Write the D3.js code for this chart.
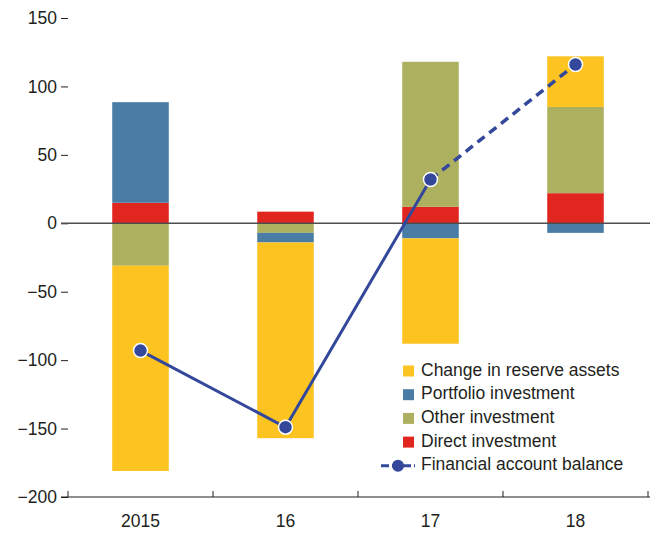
<!DOCTYPE html>
<html lang="en">
<head>
    <meta charset="UTF-8">
    <title>Financial account</title>
    <script src="https://cdn.jsdelivr.net/npm/d3@7"></script>
    <style>
        body { margin: 0; background: #fff; }
        svg { display: block; font-family: "Liberation Sans", Arial, sans-serif; }
        .tick text { font-size: 17.5px; fill: #231f20; }
        .legend text { font-size: 17.5px; fill: #231f20; }
    </style>
</head>
<body>
<div id="chart"></div>
<script>
    const years = ["2015", "16", "17", "18"];
    const directInvestment = [15, 8.5, 12, 22];
    const otherInvestment = [-31, -7, 106, 63];
    const portfolioInvestment = [73.5, -7, -11, -7];
    const reserveAssets = [-150, -143, -77, 37];
    const balance = [-93, -149, 32, 116];
    const yTicks = [-200, -150, -100, -50, 0, 50, 100, 150];

    const width = 662, height = 534;
    const colors = {
        direct: "#e1261f",
        other: "#adb15f",
        portfolio: "#4a7da6",
        reserve: "#fdc320"
    };
    const lineColor = "#33479b";

    const rows = years.map((y, i) => ({
        year: y,
        direct: directInvestment[i],
        other: otherInvestment[i],
        portfolio: portfolioInvestment[i],
        reserve: reserveAssets[i]
    }));

    const keys = ["direct", "other", "portfolio", "reserve"];
    const series = d3.stack().keys(keys).offset(d3.stackOffsetDiverging)(rows);

    const svg = d3.select("#chart").append("svg")
        .attr("width", width)
        .attr("height", height);

    const x = d3.scaleBand().domain(years).range([68, 648]).padding(0);
    const y = d3.scaleLinear().domain([-200, 150]).range([497, 18]);
    const barW = x.bandwidth() * 0.39;

    // bars
    svg.append("g")
        .selectAll("g")
        .data(series)
        .join("g")
        .attr("fill", d => colors[d.key])
        .selectAll("rect")
        .data(d => d)
        .join("rect")
        .attr("x", d => x(d.data.year) + (x.bandwidth() - barW) / 2)
        .attr("width", barW)
        .attr("y", d => y(Math.max(d[0], d[1])))
        .attr("height", d => Math.abs(y(d[0]) - y(d[1])));

    // y axis (ticks only)
    const yAxis = svg.append("g")
        .attr("transform", "translate(68,0)")
        .call(d3.axisLeft(y).tickValues(yTicks).tickSize(7).tickPadding(4)
            .tickFormat(d => d < 0 ? "\u2212" + Math.abs(d) : d));
    yAxis.select(".domain").remove();
    yAxis.selectAll(".tick line").attr("stroke", "#231f20");

    // zero line
    svg.append("line")
        .attr("x1", 61).attr("x2", 650)
        .attr("y1", y(0)).attr("y2", y(0))
        .attr("stroke", "#4d4d4d").attr("stroke-width", 1.5);

    // x axis
    const xg = svg.append("g").attr("transform", `translate(0,${y(-200)})`);
    xg.append("line")
        .attr("x1", 61).attr("x2", 650)
        .attr("stroke", "#231f20").attr("stroke-width", 1.2);
    const bounds = years.map(d => x(d)).concat([x(years[years.length - 1]) + x.bandwidth()]);
    xg.selectAll(".xt")
        .data(bounds)
        .join("line")
        .attr("class", "xt")
        .attr("x1", d => d).attr("x2", d => d)
        .attr("y1", 0).attr("y2", -6)
        .attr("stroke", "#231f20");
    xg.selectAll("text")
        .data(years)
        .join("text")
        .attr("x", d => x(d) + x.bandwidth() / 2)
        .attr("y", 25)
        .attr("text-anchor", "middle")
        .attr("dominant-baseline", "middle")
        .attr("font-size", 17.5)
        .attr("fill", "#231f20")
        .text(d => d);

    // balance line
    const pts = years.map((yr, i) => ({ x: x(yr) + x.bandwidth() / 2, y: y(balance[i]) }));
    const line = d3.line().x(d => d.x).y(d => d.y);
    svg.append("path")
        .attr("d", line(pts.slice(0, 3)))
        .attr("fill", "none")
        .attr("stroke", lineColor)
        .attr("stroke-width", 3);
    svg.append("path")
        .attr("d", line(pts.slice(2)))
        .attr("fill", "none")
        .attr("stroke", lineColor)
        .attr("stroke-width", 3.5)
        .attr("stroke-dasharray", "9,6");
    svg.append("g")
        .selectAll("circle")
        .data(pts)
        .join("circle")
        .attr("cx", d => d.x)
        .attr("cy", d => d.y)
        .attr("r", 7)
        .attr("fill", lineColor)
        .attr("stroke", "#fff")
        .attr("stroke-width", 1.5);

    // legend
    const legendItems = [
        { label: "Change in reserve assets", key: "reserve" },
        { label: "Portfolio investment", key: "portfolio" },
        { label: "Other investment", key: "other" },
        { label: "Direct investment", key: "direct" },
        { label: "Financial account balance", key: "line" }
    ];
    const legend = svg.append("g").attr("class", "legend");
    legendItems.forEach((d, i) => {
        const cy = 371 + i * 23.7;
        const g = legend.append("g");
        if (d.key === "line") {
            g.append("line")
                .attr("x1", 381).attr("x2", 415)
                .attr("y1", cy).attr("y2", cy)
                .attr("stroke", lineColor).attr("stroke-width", 3)
                .attr("stroke-dasharray", "8,3");
            g.append("circle")
                .attr("cx", 398).attr("cy", cy).attr("r", 6)
                .attr("fill", lineColor);
        } else {
            g.append("rect")
                .attr("x", 403).attr("y", cy - 5.5)
                .attr("width", 11).attr("height", 11)
                .attr("fill", colors[d.key]);
        }
        g.append("text")
            .attr("x", 421).attr("y", cy)
            .attr("dominant-baseline", "middle")
            .text(d.label);
    });
</script>
</body>
</html>
